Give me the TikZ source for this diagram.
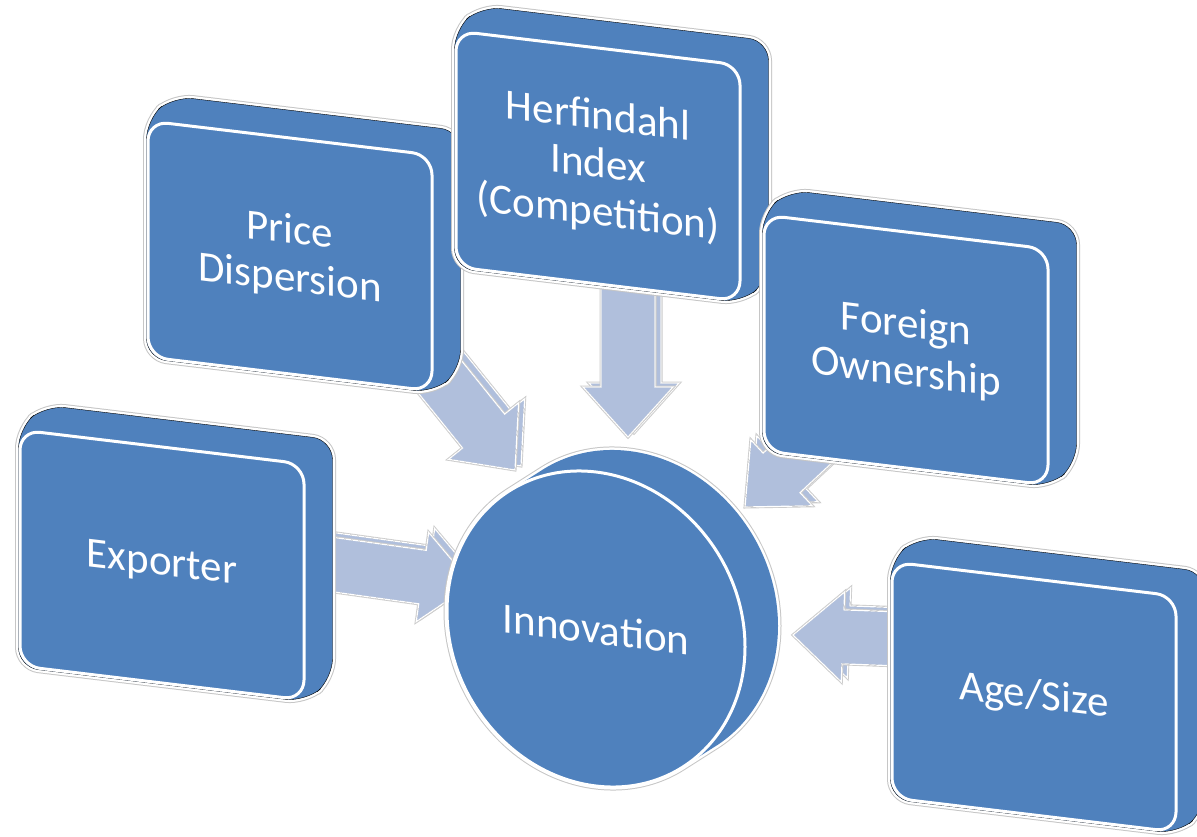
\documentclass[tikz,border=0pt]{standalone}
\usepackage{fontspec}
\setmainfont{Carlito}
\usetikzlibrary{calc,shapes.geometric}
\definecolor{boxblue}{RGB}{79,129,189}
\definecolor{flowblue}{RGB}{176,191,220}
\pgfdeclarelayer{arrows}
\pgfdeclarelayer{sides}
\pgfsetlayers{arrows,sides,main}
\newcommand{\blockarrow}[2]{%
\foreach \dx/\dy in {6/-4, 0/0}
{
\path ($(#1)+(\dx,\dy)$) coordinate (fs) ($(#2)+(\dx,\dy)$) coordinate (ft);
\path ($(ft)!50pt!(fs)$) coordinate (fh);
\draw[flow] ($(fs)!27pt!90:(ft)$) -- ($(fh)!27pt!90:(ft)$) -- ($(fh)!45pt!90:(ft)$) -- (ft)
  -- ($(fh)!45pt!-90:(ft)$) -- ($(fh)!27pt!-90:(ft)$) -- ($(fs)!27pt!-90:(ft)$) -- cycle;
}
}

\begin{document}
\begin{tikzpicture}[x=1pt, y=-1pt,
  face/.style={fill=boxblue, draw=white, line width=3pt, text=white, align=center,
    font=\fontsize{43}{48}\selectfont, inner sep=0pt, transform shape},
  card/.style={face, rounded corners=20pt, minimum width=284pt, minimum height=236pt},
  disc/.style={face, ellipse, minimum width=298pt, minimum height=314pt},
  side/.style={fill=boxblue, preaction={draw=gray!45, line width=7pt},
    preaction={draw=white, line width=5pt}},
  flow/.style={fill=flowblue, preaction={draw=gray!40, line width=3pt},
    postaction={draw=white, line width=1.2pt}}]
\useasboundingbox (0,0) rectangle (1197,837);

\foreach \n/\x/\y/\txt in {exp/162/565/Exporter, price/290/256/{Price\\Dispersion},
  herf/598/166/{Herfindahl\\Index\\(Competition)}, own/906/350/{Foreign\\Ownership},
  age/1034/697/{Age/Size}}
{
\begin{scope}[shift={(\x,\y)}, yslant=-0.12]
\node[card] (\n) at (0,0) {\txt};
\end{scope}
\begin{pgfonlayer}{sides}
\draw[side, rounded corners=20pt] (\n.south west) -- (\n.north west)
  -- ([shift={(27,-23)}]\n.north west) -- ([shift={(27,-23)}]\n.north east)
  -- ([shift={(27,-23)}]\n.south east) -- (\n.south east) -- cycle;
\end{pgfonlayer}
}

\begin{scope}[shift={(596,629)}, yslant=-0.12]
\begin{pgfonlayer}{sides}
\path[side] \foreach \k in {0,...,12} {(2.75*\k,-2.08*\k) ellipse [x radius=149, y radius=157]};
\end{pgfonlayer}
\node[disc] (inn) at (0,0) {Innovation};
\end{scope}

\begin{pgfonlayer}{arrows}
\fill[white] (0,0) rectangle (1197,837);
\coordinate (expout) at (300,560);
\coordinate (expin) at (472,584);
\coordinate (priceout) at (415,346);
\coordinate (pricein) at (515,470);
\coordinate (herfout) at (628,270);
\coordinate (herfin) at (628,437);
\coordinate (ownout) at (850,409);
\coordinate (ownin) at (745,507);
\coordinate (ageout) at (900,639);
\coordinate (agein) at (793,635);
\blockarrow{expout}{expin}
\blockarrow{priceout}{pricein}
\blockarrow{herfout}{herfin}
\blockarrow{ownout}{ownin}
\blockarrow{ageout}{agein}
\end{pgfonlayer}
\end{tikzpicture}
\end{document}
